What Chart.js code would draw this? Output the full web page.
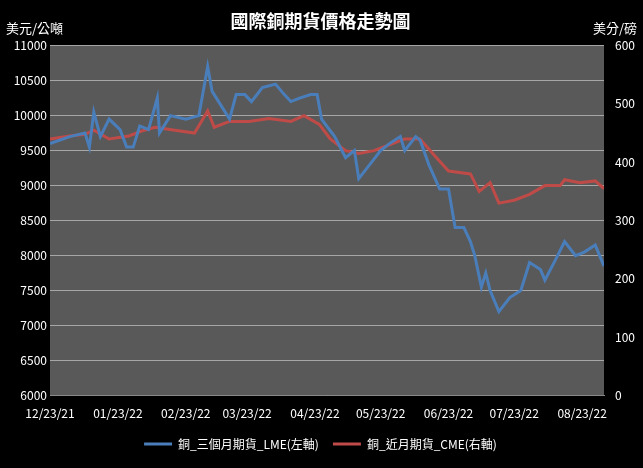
<!DOCTYPE html>
<html><head><meta charset="utf-8">
<script src="https://cdn.jsdelivr.net/npm/chart.js@4"></script>
<style>html,body{margin:0;background:#000;}</style>
</head><body><canvas id="c" width="643" height="468"></canvas>
<script>
const tickDays=[0,31,62,90,121,151,182,212,243];
const tickLabels=['12/23/21','01/23/22','02/23/22','03/23/22','04/23/22','05/23/22','06/23/22','07/23/22','08/23/22'];
const lmeDays=[0,9,16,18,20,23,27,32,35,38,41,45,49,50,55,62,68,72,74,77,82,85,89,92,97,103,107,110,114,119,122,124,130,135,139,141,146,151,155,160,162,167,169,173,178,182,185,189,192,194,197,199,201,205,210,215,219,224,226,231,235,240,244,249,253];
const lmeVals=[9600,9700,9750,9550,10050,9700,9950,9800,9550,9550,9850,9800,10250,9750,10000,9950,10000,10700,10350,10200,9950,10300,10300,10200,10400,10450,10300,10200,10250,10300,10300,9950,9700,9400,9500,9100,9300,9500,9600,9700,9500,9700,9650,9300,8950,8950,8400,8400,8200,8000,7550,7750,7500,7200,7400,7500,7900,7800,7650,7950,8200,8000,8050,8150,7850];
const cmeDays=[0,9,16,20,27,36,43,48,57,66,72,75,82,91,100,110,116,123,128,135,141,148,155,162,169,176,182,192,196,201,205,212,219,226,233,235,242,249,253];
const cmeVals=[440,445,448,455,440,445,455,460,455,450,488,460,470,470,475,470,480,465,440,420,415,420,430,440,440,410,385,380,350,365,330,335,345,360,360,370,365,368,355];
const lme=lmeDays.map((d,i)=>({x:d,y:lmeVals[i]}));
const cme=cmeDays.map((d,i)=>({x:d,y:cmeVals[i]}));
const bgPlugin={id:'bg',beforeDraw(ch){const a=ch.chartArea,c=ch.ctx;c.save();c.fillStyle='#000';c.fillRect(0,0,ch.width,ch.height);c.fillStyle='#595959';c.fillRect(a.left,a.top,a.right-a.left,a.bottom-a.top);
c.fillStyle='#fff';c.font='13px "Noto Sans CJK TC"';c.textAlign='left';c.fillText('美元/公噸',6,28);c.textAlign='right';c.fillText('美分/磅',637,28);c.restore();}};
const F='"Noto Sans CJK TC", "Liberation Sans", sans-serif';
new Chart(document.getElementById('c'),{type:'line',
data:{datasets:[
{label:'銅_三個月期貨_LME(左軸)',data:lme,yAxisID:'y',borderColor:'#4a7ebb',backgroundColor:'#4a7ebb',borderWidth:3,pointRadius:0,tension:0},
{label:'銅_近月期貨_CME(右軸)',data:cme,yAxisID:'y1',borderColor:'#be4b48',backgroundColor:'#be4b48',borderWidth:3,pointRadius:0,tension:0}]},
options:{responsive:false,animation:false,layout:{padding:{left:4,right:6,top:0,bottom:8}},
plugins:{title:{display:true,text:'國際銅期貨價格走勢圖',color:'#fff',font:{family:F,size:18,weight:'bold'},padding:{top:10,bottom:14}},
legend:{position:'bottom',labels:{color:'#fff',font:{family:F,size:12},boxWidth:28,boxHeight:3,padding:14,generateLabels(ch){return ch.data.datasets.map((d,i)=>({text:d.label,fillStyle:d.borderColor,strokeStyle:d.borderColor,lineWidth:0,fontColor:'#fff',datasetIndex:i}));}}},tooltip:{enabled:false}},
scales:{
x:{type:'linear',min:0,max:253,afterBuildTicks(ax){ax.ticks=tickDays.map(v=>({value:v}));},ticks:{color:'#fff',font:{family:F,size:12},maxRotation:0,autoSkip:false,callback(v){const i=tickDays.indexOf(v);return i>=0?tickLabels[i]:'';}},grid:{display:false},border:{color:'#888'}},
y:{position:'left',min:6000,max:11000,afterFit(s){s.width=46;},ticks:{stepSize:500,color:'#fff',font:{family:F,size:12},callback:v=>String(v)},grid:{color:'#a6a6a6',drawTicks:false},border:{display:false}},
y1:{position:'right',min:0,max:600,afterFit(s){s.width=33;},ticks:{stepSize:100,color:'#fff',font:{family:F,size:12},callback:v=>String(v)},grid:{display:false},border:{display:false}}}},
plugins:[bgPlugin]});
</script></body></html>
